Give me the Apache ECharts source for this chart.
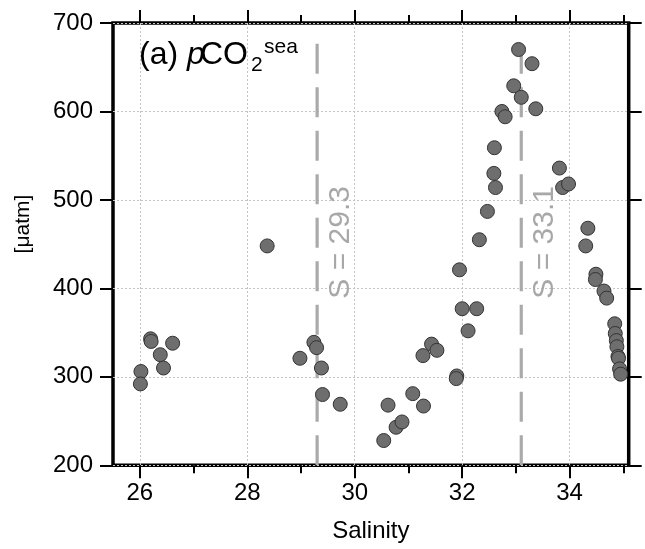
<!DOCTYPE html>
<html><head><meta charset="utf-8">
<script src="https://cdn.jsdelivr.net/npm/echarts@6/dist/echarts.min.js"></script>
<style>html,body{margin:0;padding:0;background:#fff}#c{width:645px;height:549px}</style>
</head><body><div id="c"></div>
<script>
// ---- data ----
const salinity = [26.02, 26.01, 26.20, 26.21, 26.61, 26.38, 26.44, 28.37, 28.98, 29.24,
  29.29, 29.38, 29.40, 29.73, 30.54, 30.62, 30.77, 30.88, 31.08, 31.28,
  31.27, 31.43, 31.53, 31.90, 31.89, 31.95, 32.00, 32.11, 32.27, 32.32,
  32.47, 32.59, 32.62, 32.60, 32.74, 32.80, 32.96, 33.05, 33.10, 33.30,
  33.37, 33.81, 33.87, 33.98, 34.30, 34.34, 34.49, 34.48, 34.64, 34.69,
  34.84, 34.85, 34.87, 34.88, 34.90, 34.91, 34.93, 34.95];
const pco2 = [306, 292, 343, 340, 338, 325, 310, 448, 321, 339,
  333, 310, 280, 269, 228, 268, 243, 249, 281, 267,
  324, 337, 330, 301, 298, 421, 377, 352, 377, 455,
  487, 530, 514, 559, 600, 594, 629, 670, 616, 654,
  603, 536, 514, 518, 448, 468, 416, 410, 397, 389,
  360, 349, 341, 334, 323, 321, 309, 303];
const xMajorTicks = [26, 28, 30, 32, 34];
const xMinorTicks = [27, 29, 31, 33, 35];
const yTicks = [200, 300, 400, 500, 600, 700];
const xRange = [25.5, 35.1];
const yRange = [200, 700];
const refSalinity = [29.3, 33.1];
const refLabels = ['S = 29.3', 'S = 33.1'];
const refTop = 691;
const refLabelY = 452;
const xTitle = 'Salinity';
const yTitle = '[μatm]';

// ---- chart ----
const FONT = 'Liberation Sans, Arial, sans-serif';
const chart = echarts.init(document.getElementById('c'), null, {renderer: 'canvas'});

function xAx(position, ticks, len, labels) {
  return {
    type: 'value', gridIndex: 0, position: position,
    min: xRange[0], max: xRange[1],
    axisLine: {show: false},
    axisTick: {show: true, inside: false, length: len, customValues: ticks,
      lineStyle: {color: '#000', width: 2}},
    axisLabel: labels ? {show: true, customValues: ticks, margin: 16, fontSize: 24,
      color: '#000', fontFamily: FONT} : {show: false},
    splitLine: labels ? {show: true, lineStyle: {color: '#c4c4c4', width: 1, type: [2, 2]}} : {show: false},
    name: labels ? xTitle : '',
    nameLocation: 'middle', nameGap: 54,
    nameTextStyle: {fontSize: 24, color: '#000', fontFamily: FONT}
  };
}
function yAx(position, labels) {
  return {
    type: 'value', gridIndex: 0, position: position,
    min: yRange[0], max: yRange[1], interval: 100,
    axisLine: {show: false},
    axisTick: {show: true, inside: false, length: 13, lineStyle: {color: '#000', width: 2}},
    axisLabel: labels ? {show: true, margin: 20, fontSize: 24, color: '#000', fontFamily: FONT} : {show: false},
    splitLine: labels ? {show: true, lineStyle: {color: '#c4c4c4', width: 1, type: [2, 2]}} : {show: false}
  };
}

const series = [];
refSalinity.forEach(function (s) {
  series.push({
    type: 'line', xAxisIndex: 0, yAxisIndex: 0, silent: true, z: 1,
    data: [[s, yRange[0]], [s, refTop]], symbol: 'none',
    lineStyle: {color: '#aaaaaa', width: 3.2, type: [30, 13.5]}
  });
});
series.push({
  type: 'scatter', xAxisIndex: 0, yAxisIndex: 0, z: 3,
  data: salinity.map(function (s, i) { return [s, pco2[i]]; }),
  symbol: 'circle', symbolSize: 14,
  itemStyle: {color: '#6e6e6e', borderColor: '#333', borderWidth: 1, opacity: 1}
});

chart.setOption({
  animation: false,
  grid: {left: 113, top: 23, right: 16.3, bottom: 83.7, show: true,
    borderColor: '#000', borderWidth: 3.5, backgroundColor: 'transparent',
    containLabel: false, outerBoundsMode: 'none'},
  xAxis: [xAx('bottom', xMajorTicks, 13, true), xAx('bottom', xMinorTicks, 8, false),
          xAx('top', xMajorTicks, 13, false), xAx('top', xMinorTicks, 8, false)],
  yAxis: [yAx('left', true), yAx('right', false)],
  series: series
});

// annotations positioned through the axes
const g = [];
refSalinity.forEach(function (s, i) {
  const p = chart.convertToPixel({xAxisIndex: 0, yAxisIndex: 0}, [s, refLabelY]);
  g.push({type: 'text', x: p[0] + 23.5, y: p[1], rotation: Math.PI / 2, silent: true,
    style: {text: refLabels[i], fontSize: 30, fill: '#a8a8a8', fontFamily: FONT,
      align: 'center', verticalAlign: 'middle'}});
});
g.push({type: 'text', x: 23, y: 224, rotation: Math.PI / 2, silent: true,
  style: {text: yTitle, fontSize: 21, fill: '#000', fontFamily: FONT, align: 'center', verticalAlign: 'middle'}});
// panel title: (a) pCO2^sea
g.push({type: 'text', x: 139, y: 55, silent: true,
  style: {text: '(a)', fontSize: 32, fill: '#000', fontFamily: FONT, align: 'left', verticalAlign: 'middle'}});
g.push({type: 'text', x: 187, y: 55, silent: true,
  style: {text: 'p', fontSize: 32, fontStyle: 'italic', fill: '#000', fontFamily: FONT, align: 'left', verticalAlign: 'middle'}});
g.push({type: 'text', x: 200, y: 55, silent: true,
  style: {text: 'CO', fontSize: 32, fill: '#000', fontFamily: FONT, align: 'left', verticalAlign: 'middle'}});
g.push({type: 'text', x: 251, y: 65.2, silent: true,
  style: {text: '2', fontSize: 21, fill: '#000', fontFamily: FONT, align: 'left', verticalAlign: 'middle'}});
g.push({type: 'text', x: 264, y: 46.8, silent: true,
  style: {text: 'sea', fontSize: 21, fill: '#000', fontFamily: FONT, align: 'left', verticalAlign: 'middle'}});
chart.setOption({graphic: g});
</script>
</body></html>
